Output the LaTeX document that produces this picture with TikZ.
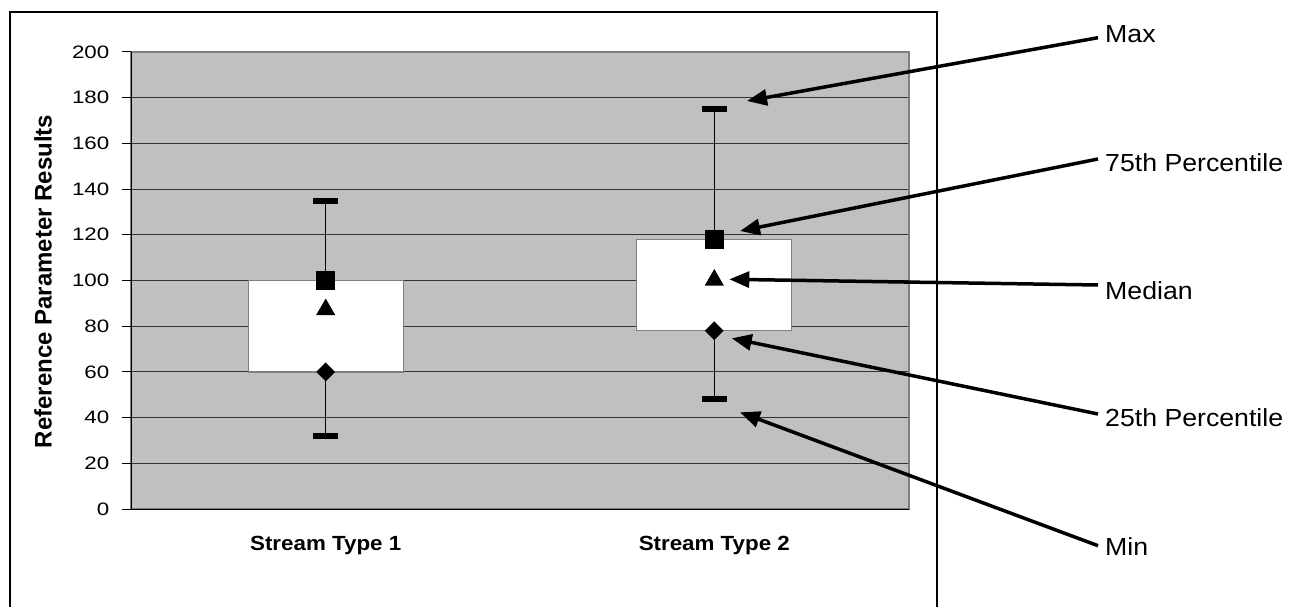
\documentclass[tikz,border=0pt]{standalone}
\usepackage{fontspec}
\setmainfont{Liberation Sans}
\newfontfamily\annfont[FakeStretch=1.08]{Liberation Sans}
\newfontfamily\tickfont[FakeStretch=1.24]{Liberation Sans}
\newfontfamily\catfont[FakeStretch=1.09]{Liberation Sans}
\usetikzlibrary{arrows.meta,shapes.geometric}
\definecolor{plotgray}{HTML}{C0C0C0}
\definecolor{bordergray}{HTML}{808080}
\definecolor{gridcol}{HTML}{333333}
\tikzset{
  ticklabel/.style={anchor=east,inner sep=0pt,font=\tickfont\fontsize{18}{20}\selectfont},
  catlabel/.style={inner sep=0pt,font=\catfont\bfseries\fontsize{20.5}{24}\selectfont},
  annlabel/.style={anchor=base west,inner sep=0pt,font=\annfont\fontsize{24.7}{28}\selectfont},
  capbar/.style={fill=black,draw=none,minimum width=25pt,minimum height=6pt,inner sep=0pt},
  sqmark/.style={fill=black,draw=none,minimum size=19pt,inner sep=0pt},
  trimark/.style={regular polygon,regular polygon sides=3,fill=black,draw=none,minimum size=22pt,inner sep=0pt},
  dimark/.style={diamond,fill=black,draw=none,minimum width=19pt,minimum height=19pt,inner sep=0pt},
  boxrect/.style={fill=white,draw=bordergray,line width=1.2pt},
  whisker/.style={draw=black,line width=1pt},
  callout/.style={draw=black,line width=3.5pt,-{Triangle[length=20pt,width=16pt]}},
}
\begin{document}
\begin{tikzpicture}[x=1pt,y=-1pt,declare function={vy(\v)=509-2.285*\v;}]
\useasboundingbox (0,0) rectangle (1291,607);
% outer chart frame
\draw[black,line width=1.3pt] (10,640) -- (10,12) -- (937,12) -- (937,640);
% plot area
\fill[plotgray] (131,52) rectangle (909,509);
\foreach \v in {20,40,...,180} {
  \draw[gridcol,line width=1pt] (131,{vy(\v)}) -- (909,{vy(\v)});
}
\draw[bordergray,line width=2pt] (131,52) rectangle (909,509);
\draw[black,line width=1pt] (131,52) -- (131,509) -- (909,509);
% y ticks and labels
\foreach \v in {0,20,...,200} {
  \draw[black,line width=1pt] (122,{vy(\v)}) -- (131,{vy(\v)});
  \node[ticklabel] (t\v) at (109.5,{vy(\v)}) {\v};
}
\node[rotate=90,inner sep=0pt,font=\bfseries\fontsize{24}{28}\selectfont] (ylab) at (43,281.5) {Reference Parameter Results};
% categories
\node[catlabel] (c1) at (325.7,545) {Stream Type 1};
\node[catlabel] (c2) at (714.3,545) {Stream Type 2};

% Stream type 1
\node[capbar] (max1) at (325.7,{vy(135)}) {};
\node[capbar] (min1) at (325.7,{vy(32)}) {};
\draw[whisker] (min1.center) -- (max1.center);
\node[boxrect,minimum width=155pt,minimum height={2.285*40},inner sep=0pt] (box1) at (325.7,{vy(80)}) {};
\node[sqmark] (q3a) at (325.7,{vy(100)}) {};
\node[trimark] (med1) at (325.7,309.5) {};
\node[dimark] (q1a) at (325.7,{vy(60)}) {};

% Stream type 2
\node[capbar] (max2) at (714.3,{vy(175)}) {};
\node[capbar] (min2) at (714.3,{vy(48)}) {};
\draw[whisker] (min2.center) -- (max2.center);
\node[boxrect,minimum width=155pt,minimum height={2.285*40},inner sep=0pt] (box2) at (714.3,{vy(98)}) {};
\node[sqmark] (q3b) at (714.3,{vy(118)}) {};
\node[trimark] (med2) at (714.3,280) {};
\node[dimark] (q1b) at (714.3,{vy(78)}) {};

% annotation labels
\node[annlabel] (lmax) at (1105,42.7) {Max};
\node[annlabel] (l75) at (1105,171.7) {75th Percentile};
\node[annlabel] (lmed) at (1105,299.3) {Median};
\node[annlabel] (l25) at (1105,426.7) {25th Percentile};
\node[annlabel] (lmin) at (1105,555) {Min};

% callout end points
\coordinate (smax) at (1098,37.7);
\coordinate (s75) at (1098,159);
\coordinate (smed) at (1098,285);
\coordinate (s25) at (1098,414);
\coordinate (smin) at (1098,545.7);
\coordinate (emax) at (747,101);
\coordinate (e75) at (740,231);
\coordinate (emed) at (729.3,279.3);
\coordinate (e25) at (731.7,338.3);
\coordinate (emin) at (740,412.3);

\draw[callout] (smax) -- (emax);
\draw[callout] (s75) -- (e75);
\draw[callout] (smed) -- (emed);
\draw[callout] (s25) -- (e25);
\draw[callout] (smin) -- (emin);
\end{tikzpicture}
\end{document}
